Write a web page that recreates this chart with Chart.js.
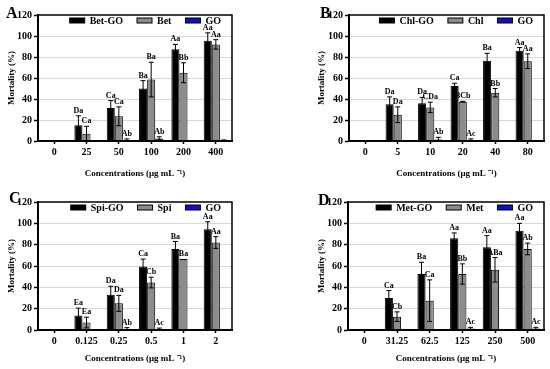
<!DOCTYPE html>
<html>
<head>
<meta charset="utf-8">
<script src="https://cdn.jsdelivr.net/npm/chart.js@4.4.1/dist/chart.umd.min.js"></script>
<style>
body { margin: 0; background: #fff; }
#wrap { position: relative; width: 550px; height: 369px; }
canvas { position: absolute; }
</style>
</head>
<body>
<div id="wrap">
  <canvas id="cA" width="275" height="185" style="left:0;top:0"></canvas>
  <canvas id="cB" width="275" height="185" style="left:275px;top:0"></canvas>
  <canvas id="cC" width="275" height="184" style="left:0;top:185px"></canvas>
  <canvas id="cD" width="275" height="184" style="left:275px;top:185px"></canvas>
</div>
<script>
// ---- panel A: Bet ----
const catsA = ['0', '25', '50', '100', '200', '400'];
const betGO = [0, 15, 31.5, 50, 87.5, 95.5];
const betGOErr = [0, 9, 7, 7.5, 4.5, 7.5];
const bet = [0, 7, 23.5, 58.5, 65, 92];
const betErr = [0, 7, 9, 16.5, 9.5, 4.5];
const goA = [0, 0, 1, 2.5, 0, 0.5];
const goAErr = [0, 0, 1, 1.5, 0, 0.5];
const betGOMarks = ['', 'Da', 'Ca', 'Ba', 'Aa', 'Aa'];
const betMarks = ['', 'Ca', 'Ca', 'Ba', 'Bb', 'Aa'];
const goAMarks = ['', '', 'Ab', 'Ab', '', ''];

// ---- panel B: Chl ----
const catsB = ['0', '5', '10', '20', '40', '80'];
const chlGO = [0, 35, 36, 52.5, 76.5, 86];
const chlGOErr = [0, 7, 5.5, 2.5, 7, 3];
const chl = [0, 25, 32, 37.5, 46, 76];
const chlErr = [0, 7.5, 5, 0.3, 4, 7];
const goB = [0, 0, 1.5, 0.8, 0, 0];
const goBErr = [0, 0, 2, 1.2, 0, 0];
const chlGOMarks = ['', 'Da', 'Da', 'Ca', 'Ba', 'Aa'];
const chlMarks = ['', 'Da', 'CDa', 'BCb', 'Bb', 'Aa'];
const goBMarks = ['', '', 'Ab', 'Ac', '', ''];

// ---- panel C: Spi ----
const catsC = ['0', '0.125', '0.25', '0.5', '1', '2'];
const spiGO = [0, 13.5, 33, 59.5, 76, 94.5];
const spiGOErr = [0, 7, 8, 7, 7, 7];
const spi = [0, 7, 25, 44.5, 66.5, 82];
const spiErr = [0, 5, 7.5, 5, 0, 5.5];
const goC = [0, 0, 1, 0.8, 0, 0];
const goCErr = [0, 0, 1.2, 1, 0, 0];
const spiGOMarks = ['', 'Ea', 'Da', 'Ca', 'Ba', 'Aa'];
const spiMarks = ['', 'Ea', 'Da', 'Cb', 'Ba', 'Aa'];
const goCMarks = ['', '', 'Ab', 'Ac', '', ''];

// ---- panel D: Met ----
const catsD = ['0', '31.25', '62.5', '125', '250', '500'];
const metGO = [0, 30, 52.5, 86, 77.5, 93];
const metGOErr = [0, 7, 11, 5, 11, 7];
const met = [0, 12.5, 27.5, 52.5, 56.5, 76];
const metErr = [0, 4.5, 19.5, 9.5, 11.5, 5.5];
const goD = [0, 0, 0, 1.5, 0, 1.5];
const goDErr = [0, 0, 0, 1, 0, 1];
const metGOMarks = ['', 'Ca', 'Ba', 'Aa', 'Aa', 'Aa'];
const metMarks = ['', 'Cb', 'Ca', 'Bb', 'ABa', 'Ab'];
const goDMarks = ['', '', '', 'Ac', '', 'Ac'];

const yTicks = [0, 20, 40, 60, 80, 100, 120];

const SERIF = '"Liberation Serif", "Times New Roman", serif';
const fills = ['#000000', '#8c8c8c', '#1010c8'];

// error bars, letters, frame, legend inside plot and panel letter
const panelDeco = {
  id: 'panelDeco',
  afterDatasetsDraw(chart) {
    const ctx = chart.ctx, y = chart.scales.y;
    ctx.save();
    ctx.strokeStyle = '#000';
    ctx.fillStyle = '#000';
    ctx.lineWidth = 1;
    ctx.font = 'bold 8px ' + SERIF;
    ctx.textAlign = 'center';
    ctx.textBaseline = 'bottom';
    chart.data.datasets.forEach((ds, i) => {
      chart.getDatasetMeta(i).data.forEach((bar, j) => {
        const v = ds.data[j], e = ds.err[j];
        const top = y.getPixelForValue(v + e);
        if (e > 0) {
          const bot = y.getPixelForValue(Math.max(0, v - e));
          ctx.beginPath();
          ctx.moveTo(bar.x, top); ctx.lineTo(bar.x, bot);
          ctx.moveTo(bar.x - 2.5, top); ctx.lineTo(bar.x + 2.5, top);
          ctx.moveTo(bar.x - 2.5, bot); ctx.lineTo(bar.x + 2.5, bot);
          ctx.stroke();
        }
        if (ds.marks[j]) ctx.fillText(ds.marks[j], bar.x, top - 1);
      });
    });
    ctx.restore();
  },
  afterDraw(chart, args, opts) {
    const ctx = chart.ctx, ca = chart.chartArea;
    ctx.save();
    ctx.strokeStyle = '#000';
    ctx.lineWidth = 1.5;
    ctx.strokeRect(ca.left, ca.top, ca.right - ca.left, ca.bottom - ca.top);

    // legend, right aligned inside the top of the plot
    ctx.font = 'bold 10px ' + SERIF;
    ctx.textBaseline = 'middle';
    ctx.textAlign = 'left';
    const ly = ca.top + 5.5;
    let x = ca.right - 11;
    const dss = chart.data.datasets;
    for (let k = dss.length - 1; k >= 0; k--) {
      const w = ctx.measureText(dss[k].label).width;
      x -= w;
      ctx.fillStyle = '#000';
      ctx.fillText(dss[k].label, x, ly + 0.5);
      x -= 5 + 15;
      ctx.fillStyle = dss[k].backgroundColor;
      ctx.fillRect(x, ly - 2.5, 15, 5);
      ctx.lineWidth = 1;
      ctx.strokeRect(x, ly - 2.5, 15, 5);
      x -= 14;
    }

    ctx.fillStyle = '#000';
    ctx.font = 'bold 16px ' + SERIF;
    ctx.textBaseline = 'alphabetic';
    ctx.fillText(opts.letter, opts.lx, opts.ly);
    ctx.restore();
  }
};

function makePanel(id, cats, names, vals, errs, marks, box) {
  const tickFont = { family: SERIF, weight: 'bold', size: 10 };
  const titleFont = { family: SERIF, weight: 'bold', size: 9 };
  return new Chart(document.getElementById(id), {
    type: 'bar',
    data: {
      labels: cats,
      datasets: names.map((n, i) => ({
        label: n,
        data: vals[i],
        err: errs[i],
        marks: marks[i],
        backgroundColor: fills[i],
        borderColor: '#000',
        borderWidth: 1,
        categoryPercentage: 0.75,
        barPercentage: 1
      }))
    },
    options: {
      responsive: false,
      animation: false,
      layout: { padding: { left: box.pl, right: box.pr, top: box.pt, bottom: 0 } },
      plugins: {
        legend: { display: false },
        tooltip: { enabled: false },
        panelDeco: { letter: box.letter, lx: box.lx, ly: box.ly }
      },
      scales: {
        x: {
          grid: { drawOnChartArea: false, offset: false, tickLength: 3, tickColor: '#000', tickWidth: 1.5 },
          border: { color: '#000', width: 2 },
          ticks: { color: '#000', font: tickFont, padding: 2, autoSkip: false, maxRotation: 0 },
          title: {
            display: true, text: 'Concentrations (μg mL ⁻¹)', color: '#000',
            font: titleFont, padding: { top: 0, bottom: box.xtb }
          },
          afterFit: s => { s.height = box.xh; }
        },
        y: {
          min: 0, max: 120,
          afterBuildTicks: s => { s.ticks = yTicks.map(v => ({ value: v })); },
          ticks: { color: '#000', font: tickFont, padding: 2 },
          grid: {
            color: c => (c.tick && c.tick.value > 0 && c.tick.value < 120) ? '#d8d8d8' : 'rgba(0,0,0,0)',
            tickLength: 4, tickColor: '#000', tickWidth: 1.5
          },
          border: { color: '#000', width: 2 },
          title: {
            display: true, text: 'Mortality (%)', color: '#000',
            font: titleFont, padding: { top: 6.6, bottom: 0 }
          },
          afterFit: s => { s.width = box.yw; }
        }
      }
    },
    plugins: [panelDeco]
  });
}

makePanel('cA', catsA, ['Bet-GO', 'Bet', 'GO'],
  [betGO, bet, goA], [betGOErr, betErr, goAErr], [betGOMarks, betMarks, goAMarks],
  { pl: 0, yw: 38, pr: 43, pt: 15, xh: 44, xtb: 6.3, letter: 'A', lx: 6, ly: 18 });

makePanel('cB', catsB, ['Chl-GO', 'Chl', 'GO'],
  [chlGO, chl, goB], [chlGOErr, chlErr, goBErr], [chlGOMarks, chlMarks, goBMarks],
  { pl: 35, yw: 39, pr: 6, pt: 15, xh: 44, xtb: 6.3, letter: 'B', lx: 45, ly: 18 });

makePanel('cC', catsC, ['Spi-GO', 'Spi', 'GO'],
  [spiGO, spi, goC], [spiGOErr, spiErr, goCErr], [spiGOMarks, spiMarks, goCMarks],
  { pl: 0, yw: 38, pr: 43, pt: 17, xh: 39, xtb: 4.6, letter: 'C', lx: 9, ly: 18 });

makePanel('cD', catsD, ['Met-GO', 'Met', 'GO'],
  [metGO, met, goD], [metGOErr, metErr, goDErr], [metGOMarks, metMarks, goDMarks],
  { pl: 35, yw: 38, pr: 6, pt: 17, xh: 39, xtb: 4.6, letter: 'D', lx: 43, ly: 20 });
</script>
</body>
</html>
